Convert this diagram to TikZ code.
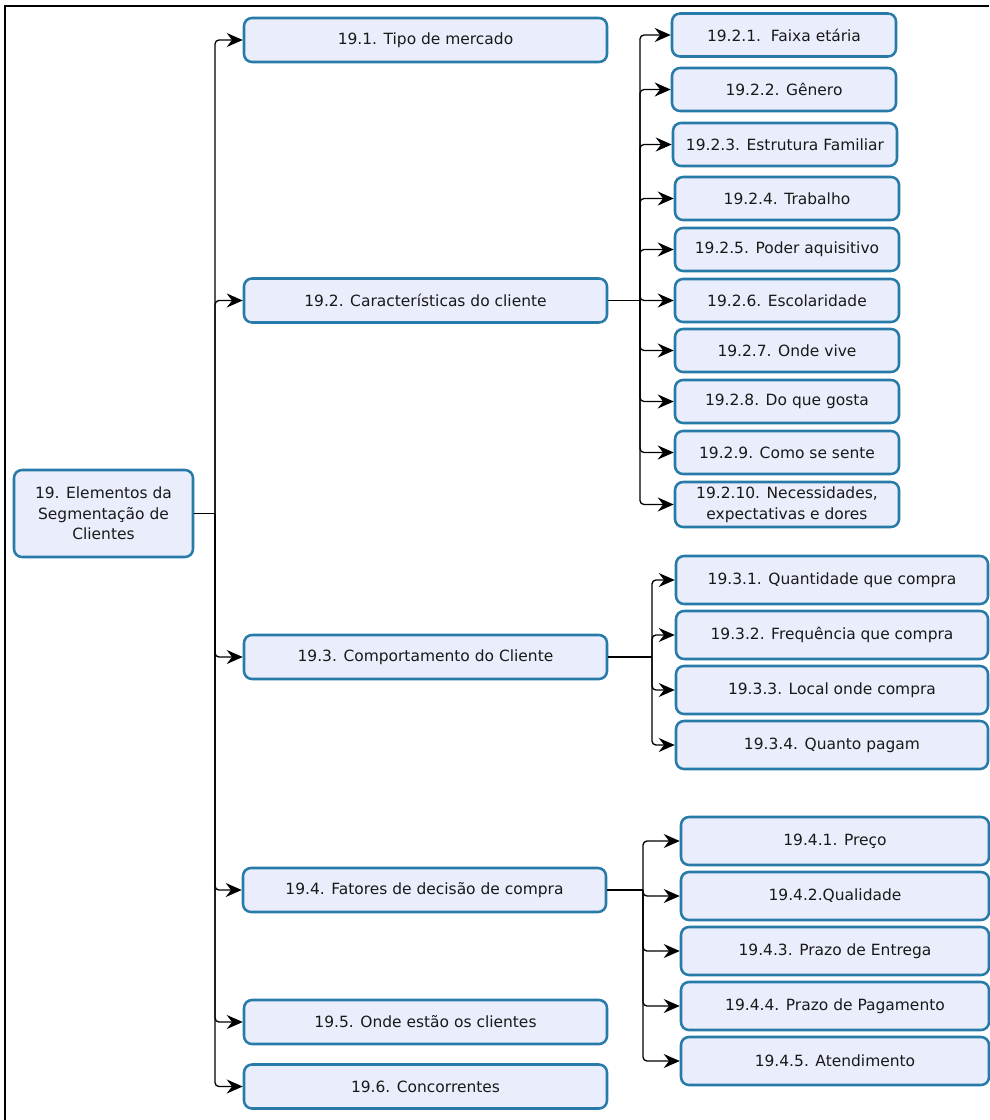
\documentclass[tikz,border=0pt]{standalone}
\usepackage{fontspec}
\setmainfont{DejaVu Sans}
\usetikzlibrary{arrows.meta}
\definecolor{boxfill}{RGB}{234,238,252}
\definecolor{boxline}{RGB}{40,122,168}
\begin{document}
\begin{tikzpicture}[x=0.75pt,y=-0.75pt,
  box/.style={draw=boxline, fill=boxfill, line width=1.9pt, rounded corners=6pt,
    inner sep=0pt, align=center, font=\fontsize{11.6}{15.5}\selectfont, text=black!90},
  lvl1/.style={box, minimum width=363*0.75pt, minimum height=44*0.75pt},
  lvl2a/.style={box, minimum width=224*0.75pt, minimum height=43*0.75pt},
  lvl2b/.style={box, minimum width=312*0.75pt, minimum height=48*0.75pt},
  lvl2c/.style={box, minimum width=308*0.75pt, minimum height=48*0.75pt},
  conn/.style={draw=black, line width=1pt, rounded corners=3pt,
    -{Stealth[length=12pt,width=10.5pt,inset=4pt]}},
  link/.style={draw=black, line width=1pt}]
  \useasboundingbox (0,0) rectangle (989,1120);
  % frame
  \draw[line width=1.6pt] (5,1120) -- (5,6) -- (989,6);

  % root
  \node[box, minimum width=179*0.75pt, minimum height=87*0.75pt] (root) at (103.5,513.5)
    {19. Elementos da\\Segmentação de\\Clientes};

  % first level
  \node[lvl1] (a1) at (425.5,40) {19.1. Tipo de mercado};
  \node[lvl1] (a2) at (425.5,300.5) {19.2. Características do cliente};
  \node[lvl1] (a3) at (425.5,657) {19.3. Comportamento do Cliente};
  \node[lvl1] (a4) at (424.5,890) {19.4. Fatores de decisão de compra};
  \node[lvl1] (a5) at (425.5,1022) {19.5. Onde estão os clientes};
  \node[lvl1] (a6) at (425.5,1086.5) {19.6. Concorrentes};

  % 19.2 children
  \node[lvl2a] (b1) at (784,35) {19.2.1.\ \ Faixa etária};
  \node[lvl2a] (b2) at (784,89.5) {19.2.2. Gênero};
  \node[lvl2a] (b3) at (785,144.5) {19.2.3. Estrutura Familiar};
  \node[lvl2a] (b4) at (787,198.5) {19.2.4. Trabalho};
  \node[lvl2a] (b5) at (787,249.5) {19.2.5. Poder aquisitivo};
  \node[lvl2a] (b6) at (787,300.5) {19.2.6. Escolaridade};
  \node[lvl2a] (b7) at (787,350.5) {19.2.7. Onde vive};
  \node[lvl2a] (b8) at (787,401.5) {19.2.8. Do que gosta};
  \node[lvl2a] (b9) at (787,452.5) {19.2.9. Como se sente};
  \node[lvl2a, minimum height=45*0.75pt] (b10) at (787,504.5)
    {19.2.10. Necessidades,\\expectativas e dores};

  % 19.3 children
  \node[lvl2b] (c1) at (832,580) {19.3.1. Quantidade que compra};
  \node[lvl2b] (c2) at (832,635) {19.3.2. Frequência que compra};
  \node[lvl2b] (c3) at (832,690) {19.3.3. Local onde compra};
  \node[lvl2b] (c4) at (832,745) {19.3.4. Quanto pagam};

  % 19.4 children
  \node[lvl2c] (d1) at (835,841) {19.4.1. Preço};
  \node[lvl2c] (d2) at (835,896) {19.4.2.Qualidade};
  \node[lvl2c] (d3) at (835,951) {19.4.3. Prazo de Entrega};
  \node[lvl2c] (d4) at (835,1006) {19.4.4. Prazo de Pagamento};
  \node[lvl2c] (d5) at (835,1061) {19.4.5. Atendimento};

  % branch points
  \coordinate (ja) at (215,513.5);
  \coordinate (jb) at (640,300.5);
  \coordinate (jc) at (652,657);
  \coordinate (jd) at (643,890);

  % root to first level
  \draw[link] (root.east) -- (ja);
  \foreach \n in {a1,a2,a3,a4,a5,a6}
    \draw[conn] (ja) |- (\n.west);

  % 19.2 branch
  \draw[link] (a2.east) -- (jb);
  \foreach \n in {b1,b2,b3,b4,b5,b6,b7,b8,b9,b10}
    \draw[conn] (jb) |- (\n.west);

  % 19.3 branch
  \draw[link] (a3.east) -- (jc);
  \foreach \n in {c1,c2,c3,c4}
    \draw[conn] (jc) |- (\n.west);

  % 19.4 branch
  \draw[link] (a4.east) -- (jd);
  \foreach \n in {d1,d2,d3,d4,d5}
    \draw[conn] (jd) |- (\n.west);
\end{tikzpicture}
\end{document}
